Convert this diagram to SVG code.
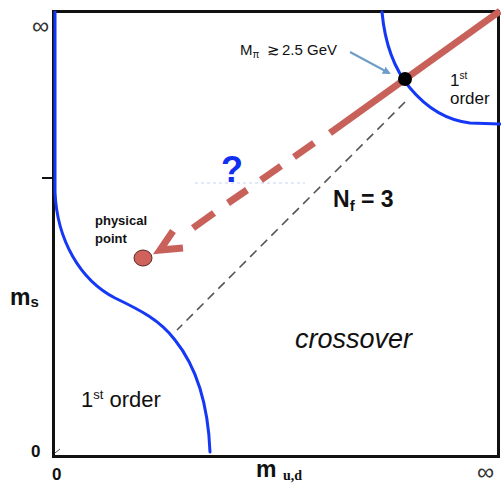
<svg xmlns="http://www.w3.org/2000/svg" width="501" height="491" viewBox="0 0 501 491">
<defs>
<style>
.t{font-family:"Liberation Sans",Arial,sans-serif;fill:#111}
.b{font-weight:bold}
.blue{fill:none;stroke:#1438f5;stroke-width:3;stroke-linecap:round}
.red{stroke:#c9615b;stroke-width:7;fill:none}
.gd{stroke:#555;stroke-width:1.6;stroke-dasharray:9 6;fill:none}
</style>
<marker id="ah" markerWidth="8" markerHeight="8" refX="6" refY="4" orient="auto" markerUnits="userSpaceOnUse">
<path d="M0,0 L8,4 L0,8 Z" fill="#6d9dc8"/>
</marker>
</defs>
<rect width="501" height="491" fill="#fff"/>

<g id="frame">
<rect x="53.5" y="11.5" width="445" height="445" fill="none" stroke="#111" stroke-width="3"/>
<line x1="42" y1="178" x2="53" y2="178" stroke="#111" stroke-width="2"/>
<line x1="55" y1="453" x2="60" y2="449" stroke="#555" stroke-width="1"/>
</g>

<g id="boundaries">
<path class="blue" d="M55,12 L55,192 C57,240 80,280 115,298 C140,310 160,320 175,340 C195,365 208,400 210,452"/>
<path class="blue" d="M382,12 C385,45 395,70 410,88 C425,106 445,120 470,123 L500,124"/>
</g>

<g id="connectors">
<line class="gd" x1="405" y1="102" x2="177" y2="330"/>
<line x1="195" y1="183" x2="305" y2="183" stroke="#c8d0f5" stroke-width="1" stroke-dasharray="3 3"/>
<line class="red" x1="500" y1="11" x2="330" y2="133"/>
<g class="red">
<line x1="314" y1="143" x2="294" y2="157"/>
<line x1="281" y1="166" x2="261" y2="180"/>
<line x1="247" y1="190" x2="228" y2="203"/>
<line x1="214" y1="213" x2="193" y2="228"/>
<polyline points="173,231 160,250 183,248" stroke-linejoin="miter"/>
</g>
<line x1="350" y1="52" x2="389" y2="73" stroke="#6d9dc8" stroke-width="2" marker-end="url(#ah)"/>
</g>

<g id="critical-point">
<circle cx="405" cy="79" r="7" fill="#000"/>
</g>
<g id="physical-point">
<ellipse cx="143" cy="258" rx="9" ry="8" fill="#cf625a" stroke="#5a2a28" stroke-width="1"/>
<text class="t b" x="95" y="225" font-size="13">physical</text>
<text class="t b" x="95" y="243" font-size="13">point</text>
</g>

<g id="labels">
<text class="t" x="32" y="34" font-size="24" style="fill:#333">∞</text>
<text class="t" x="477" y="480" font-size="24" style="fill:#333">∞</text>
<text class="t b" x="10" y="305" font-size="23">m<tspan font-size="15" dy="2">s</tspan></text>
<text class="t b" x="31" y="457" font-size="17">0</text>
<text class="t b" x="52" y="480" font-size="17">0</text>
<text class="t b" x="256" y="477" font-size="23">m</text>
<text x="283" y="480" font-size="14" font-weight="bold" font-family="Liberation Serif,serif" fill="#111">u,d</text>
<text class="t" x="295" y="348" font-size="27" font-style="italic">crossover</text>
<text class="t" x="81" y="407" font-size="22">1<tspan font-size="13" dy="-8">st</tspan><tspan dy="8"> order</tspan></text>
<text class="t" x="450" y="86" font-size="17">1<tspan font-size="10" dy="-7">st</tspan></text>
<text class="t" x="450" y="104" font-size="17">order</text>
<text class="t b" x="333" y="207" font-size="23">N<tspan font-size="15" dy="4">f</tspan><tspan dy="-4"> = 3</tspan></text>
<text class="t" x="240" y="55" font-size="15">M<tspan font-size="10" dy="3">π</tspan><tspan dy="-3" x="267">≳</tspan><tspan x="282">2.5 GeV</tspan></text>
<text class="t b" x="221" y="182" font-size="36" style="fill:#1030f0">?</text>
</g>
</svg>
